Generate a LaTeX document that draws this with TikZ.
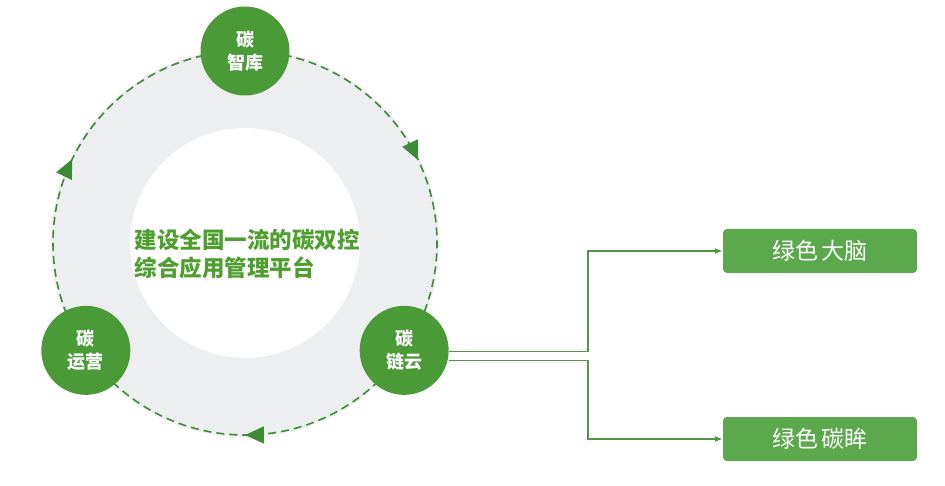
\documentclass[tikz,border=0pt]{standalone}
\usepackage{fontspec}
\newfontfamily\cjk{Noto Sans CJK SC}
\usetikzlibrary{arrows.meta,decorations.markings,calc}
\definecolor{ringgray}{HTML}{EDEEF0}
\definecolor{dotgreen}{HTML}{4A9A38}
\definecolor{boxgreen}{HTML}{5CA84C}
\definecolor{dashgreen}{HTML}{3D8B37}
\definecolor{titlegreen}{HTML}{4E9F2F}
\tikzset{
  part/.style={circle,fill=dotgreen,minimum size=89pt,inner sep=0pt,align=center,
    text=white,font=\cjk\bfseries\fontsize{18}{23}\selectfont},
  goal/.style={rectangle,rounded corners=4pt,fill=boxgreen,minimum width=194pt,minimum height=44pt,
    text=white,font=\cjk\fontsize{23}{26}\selectfont},
  link/.style={draw=boxgreen!90!black,line width=1.4pt,-{Latex[length=8pt,width=6pt]}}
}
\begin{document}
\begin{tikzpicture}[x=1pt,y=1pt]
    \useasboundingbox (0,0) rectangle (945,485);
    \coordinate (c) at (245,242);
    \fill[ringgray] (c) circle[radius=194];
    \fill[white] (c) circle[radius=115];
    \draw[dashgreen,line width=1.6pt,dash pattern=on 8pt off 5pt,
      decoration={markings,
        mark=at position 0.179 with {\arrow[solid]{Triangle[length=19pt,width=17pt]}},
        mark=at position 0.5 with {\arrow[solid]{Triangle[length=19pt,width=17pt]}},
        mark=at position 0.822 with {\arrow[solid]{Triangle[length=19pt,width=17pt]}}},
      postaction={decorate}]
      (c) ++(90:192) arc[start angle=90,end angle=-270,radius=192];
    \node[part] (ku) at ($(c)+(90:192)$) {碳\\智库};
    \node[part] (lian) at ($(c)+(-34:192)$) {碳\\链云};
    \node[part] (yun) at ($(c)+(214:192)$) {碳\\运营};
    \node[anchor=west,align=left,text=titlegreen,font=\cjk\bfseries\fontsize{22.5}{28}\selectfont]
      (title) at (131,231) {建设全国一流的碳双控\\综合应用管理平台};
    \node[goal] (brain) at (820,234) {绿色\hspace{4pt}大脑};
    \node[goal] (eye) at (820,46) {绿色\hspace{4pt}碳眸};
    \draw[link] ([yshift=-1pt]lian.east) -- ++(139,0) |- (brain.west);
    \draw[link] ([yshift=-10pt]lian.east) -- ++(139,0) |- (eye.west);
\end{tikzpicture}
\end{document}
